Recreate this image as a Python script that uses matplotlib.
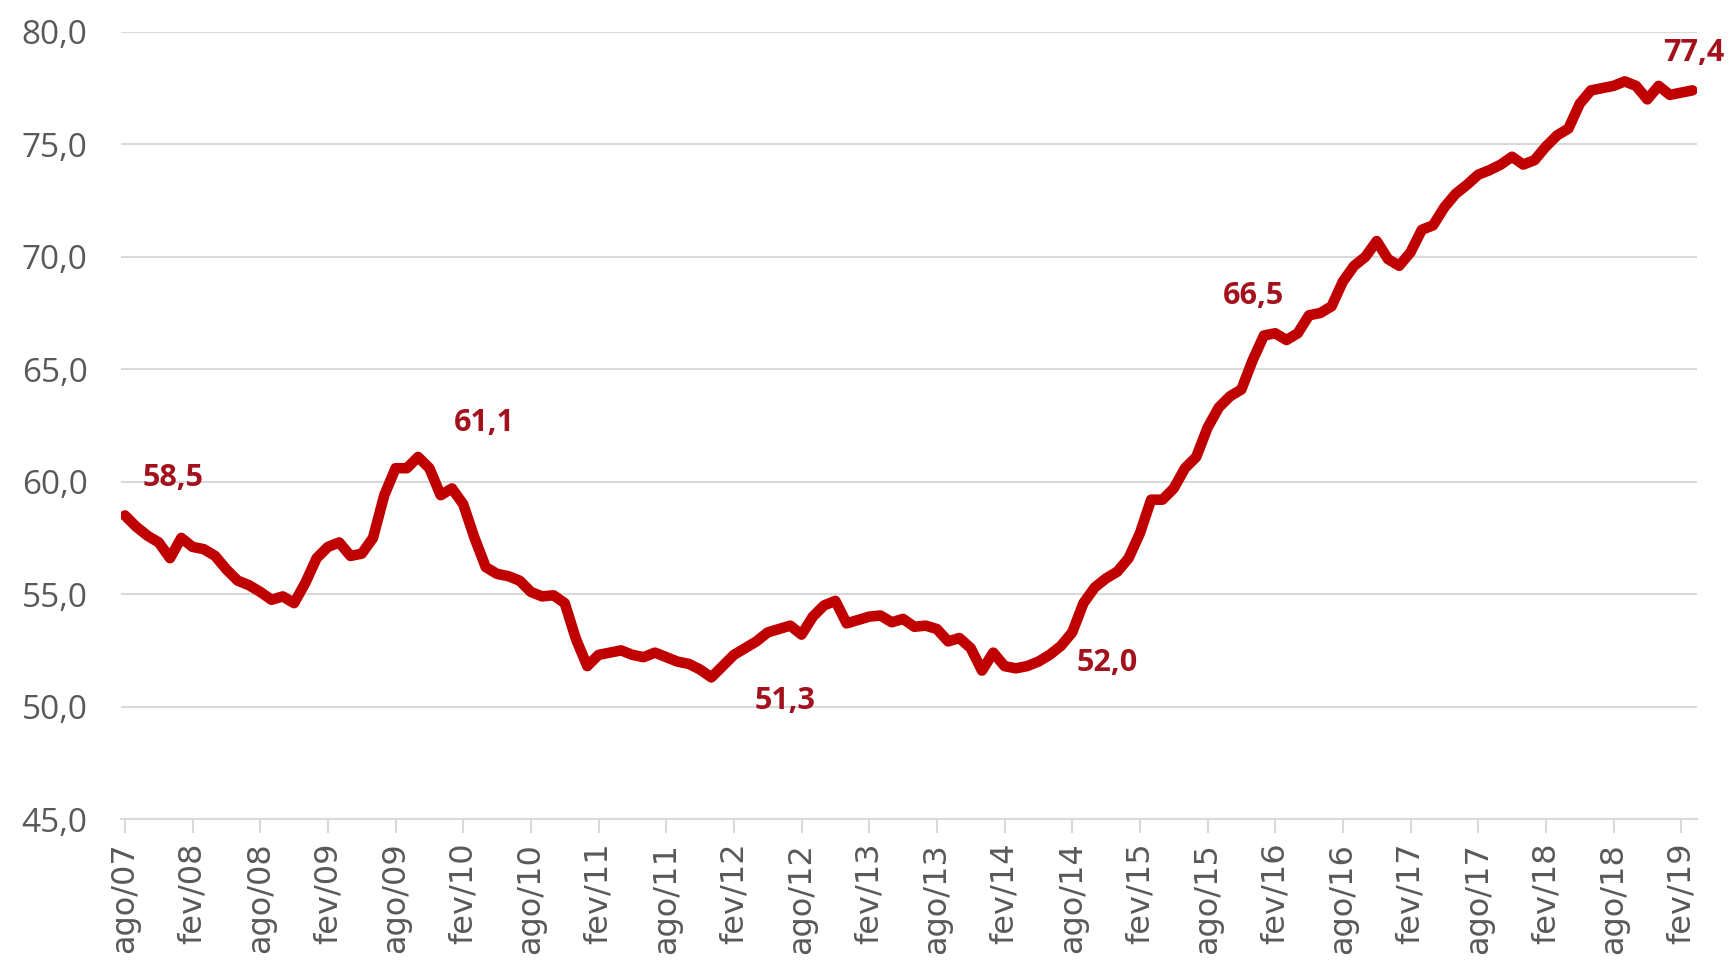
import numpy as np
import pandas as pd
import matplotlib
matplotlib.use("Agg")
import matplotlib.pyplot as plt
from matplotlib.ticker import FixedLocator, FuncFormatter

plt.rcParams['font.family'] = ['Open Sans', 'DejaVu Sans']

# monthly series, ago/07 .. mar/19
valores = [
    58.5, 58.0, 57.6, 57.3, 56.6, 57.5, 57.1, 57.0, 56.7, 56.1,
    55.6, 55.4, 55.1, 54.75, 54.9, 54.6, 55.5, 56.6, 57.1, 57.3,
    56.7, 56.8, 57.5, 59.4, 60.6, 60.6, 61.1, 60.6, 59.4, 59.7,
    59.0, 57.5, 56.2, 55.9, 55.8, 55.6, 55.1, 54.9, 54.95, 54.6,
    53.0, 51.8, 52.3, 52.4, 52.5, 52.3, 52.2, 52.4, 52.2, 52.0,
    51.9, 51.65, 51.3, 51.8, 52.3, 52.6, 52.9, 53.3, 53.45, 53.6,
    53.2, 54.0, 54.5, 54.7, 53.7, 53.85, 54.0, 54.05, 53.75, 53.9,
    53.55, 53.6, 53.45, 52.9, 53.05, 52.6, 51.6, 52.4, 51.8, 51.7,
    51.8, 52.0, 52.3, 52.7, 53.3, 54.6, 55.3, 55.7, 56.0, 56.6,
    57.7, 59.2, 59.2, 59.7, 60.6, 61.1, 62.4, 63.3, 63.8, 64.1,
    65.4, 66.5, 66.6, 66.3, 66.6, 67.4, 67.5, 67.8, 68.9, 69.6,
    70.0, 70.7, 69.9, 69.6, 70.2, 71.2, 71.4, 72.2, 72.8, 73.2,
    73.65, 73.85, 74.1, 74.45, 74.1, 74.3, 74.9, 75.4, 75.7, 76.8,
    77.4, 77.5, 77.6, 77.8, 77.6, 77.0, 77.6, 77.2, 77.3, 77.4,
]

meses_pt = ['jan', 'fev', 'mar', 'abr', 'mai', 'jun',
            'jul', 'ago', 'set', 'out', 'nov', 'dez']
datas = pd.date_range('2007-08-01', periods=len(valores), freq='MS')
rotulos = [f"{meses_pt[d.month - 1]}/{d.strftime('%y')}" for d in datas]

# highlighted points: (month index, pixel offset of the label)
destaques = [
    (0, (48, 37)),
    (26, (66, 34)),
    (52, (74, -24)),
    (81, (69, -1)),
    (101, (-10, 40)),
    (139, (1, 37)),
]

cor_linha = '#C00000'
cor_rotulo = '#A3111C'
cinza = '#595959'

fig = plt.figure(figsize=(17.33, 9.67), dpi=100)
ax = fig.add_axes([0.0698, 0.153, 0.9094, 0.814])

x = np.arange(len(valores))
ax.plot(x, valores, color=cor_linha, lw=7.6, solid_joinstyle='round',
        solid_capstyle='round', zorder=3)

for i, (dx, dy) in destaques:
    txt = f"{valores[i]:.1f}".replace('.', ',')
    ax.annotate(txt, xy=(i, valores[i]), xytext=(dx, dy),
                textcoords='offset pixels', ha='center', va='center',
                fontsize=22, fontweight='bold', color=cor_rotulo,
                annotation_clip=False, zorder=4)

ax.set_xlim(-0.35, 139.4)
ax.set_ylim(45, 80)
ax.yaxis.set_major_locator(FixedLocator(np.arange(45, 80.1, 5)))
ax.yaxis.set_major_formatter(FuncFormatter(lambda v, _: f"{v:.1f}".replace('.', ',')))
ax.grid(axis='y', color='#D9D9D9', lw=1.5, zorder=0)
ax.set_axisbelow(True)

ticks = x[::6]
ax.set_xticks(ticks)
ax.set_xticklabels([rotulos[t] for t in ticks], rotation=90, fontsize=23,
                   color=cinza, family='DejaVu Sans')
ax.tick_params(axis='x', length=10, width=1.5, color='#D9D9D9', pad=7)
ax.tick_params(axis='y', length=0, labelsize=24, labelcolor=cinza, pad=24)

for s in ['top', 'right', 'left']:
    ax.spines[s].set_visible(False)
ax.spines['bottom'].set_color('#D9D9D9')
ax.spines['bottom'].set_linewidth(1.5)

fig.savefig('out.png', dpi=100)
